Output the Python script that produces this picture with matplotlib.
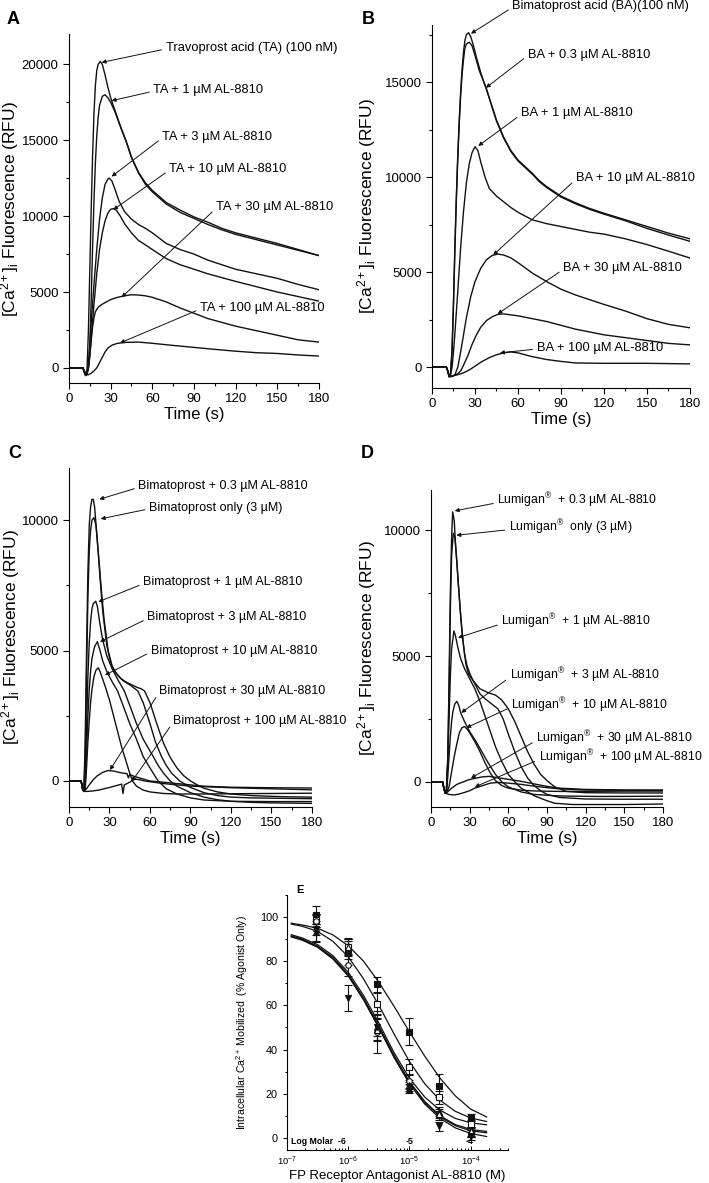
import numpy as np
import matplotlib
matplotlib.use('Agg')
import matplotlib.pyplot as plt
from matplotlib.ticker import MultipleLocator, LogLocator, NullFormatter

plt.rcParams['font.family'] = ['Liberation Sans', 'DejaVu Sans']
plt.rcParams['mathtext.fontset'] = 'custom'
plt.rcParams['mathtext.rm'] = 'Liberation Sans'
plt.rcParams['mathtext.it'] = 'Liberation Sans:italic'
plt.rcParams['mathtext.bf'] = 'Liberation Sans:bold'

# ---------------- panel A : travoprost acid ----------------
a_ta_t = [0, 10, 11, 12, 13, 14, 15, 16, 17, 18, 19, 20, 21, 22.5, 24, 26, 28, 30, 33, 36, 38, 41, 45, 50, 55, 60, 70, 80, 90, 100, 110, 120, 135, 150, 165, 180]
a_ta_v = [0, 0, -300, -500, -100, 2500, 6500, 10500, 14000, 16800, 18600, 19600, 20000, 20200, 20000, 19300, 18500, 17800, 17000, 16200, 15700, 15000, 13900, 12900, 12200, 11700, 10900, 10400, 9950, 9600, 9200, 8900, 8550, 8200, 7800, 7400]
a_1_t = [0, 10, 11, 12, 13, 14, 15, 16, 17, 18, 19, 20, 21, 22, 24, 26, 28, 30, 33, 36, 38, 41, 45, 50, 55, 60, 70, 80, 90, 100, 110, 120, 135, 150, 165, 180]
a_1_v = [0, 0, -300, -500, -300, 0, 1500, 4500, 8000, 11000, 13500, 15300, 16500, 17300, 17900, 18000, 17800, 17500, 16900, 16150, 15650, 14950, 13850, 12850, 12100, 11600, 10800, 10250, 9850, 9450, 9100, 8800, 8450, 8100, 7750, 7400]
a_3_t = [0, 10, 11, 12, 13, 14, 15, 16, 18, 20, 22, 24, 26, 28, 29, 31, 33, 36, 40, 45, 50, 55, 60, 70, 80, 90, 100, 110, 120, 135, 150, 165, 180]
a_3_v = [0, 0, -200, -500, -300, 300, 1500, 3000, 5500, 7800, 9800, 11200, 12100, 12450, 12500, 12300, 11800, 11000, 10300, 9800, 9450, 9200, 8900, 8200, 7800, 7500, 7100, 6800, 6500, 6200, 5900, 5500, 5150]
a_10_t = [0, 10, 11, 12, 13, 14, 15, 16, 18, 20, 22, 24, 26, 28, 30, 32, 34, 37, 40, 45, 50, 56, 60, 70, 80, 90, 100, 110, 120, 135, 150, 165, 180]
a_10_v = [0, 0, -200, -400, -400, 0, 800, 2000, 4200, 6200, 7800, 8900, 9700, 10200, 10450, 10500, 10400, 10000, 9500, 8900, 8400, 8050, 7800, 7200, 6800, 6500, 6200, 5950, 5700, 5350, 5000, 4700, 4400]
a_30_t = [0, 10, 11, 12, 13, 14, 15, 16, 17, 18, 19, 21, 24, 27, 30, 35, 40, 45, 50, 55, 60, 70, 80, 90, 100, 110, 120, 135, 150, 165, 180]
a_30_v = [0, 0, -200, -500, -400, 0, 800, 1800, 2700, 3300, 3700, 4000, 4200, 4350, 4500, 4650, 4750, 4820, 4800, 4750, 4650, 4350, 3950, 3600, 3250, 3000, 2750, 2450, 2150, 1850, 1700]
a_100_t = [0, 10, 11, 12, 14, 16, 18, 20, 22, 24, 26, 28, 31, 35, 40, 50, 60, 75, 90, 105, 120, 135, 150, 165, 180]
a_100_v = [0, 0, -200, -450, -450, -350, -200, 0, 350, 700, 1050, 1300, 1500, 1620, 1680, 1700, 1620, 1480, 1350, 1220, 1100, 1000, 950, 850, 780]

a_labels = ['Travoprost acid (TA) (100 nM)', 'TA + 1 µM AL-8810', 'TA + 3 µM AL-8810',
            'TA + 10 µM AL-8810', 'TA + 30 µM AL-8810', 'TA + 100 µM AL-8810']

# ---------------- panel B : bimatoprost acid ----------------
b_ba_t = [0, 10, 11, 12, 13, 14, 15, 16, 17, 18, 19, 20, 21, 22, 23, 24, 25.5, 27, 29, 31, 34, 38, 42, 45, 50, 55, 60, 70, 75, 80, 90, 100, 110, 120, 135, 150, 165, 180]
b_ba_v = [0, 0, -200, -500, -300, 1000, 3500, 6500, 9000, 11200, 13000, 14500, 15700, 16600, 17200, 17500, 17600, 17400, 16900, 16300, 15500, 14600, 13700, 13000, 12100, 11400, 10900, 10200, 9800, 9500, 9000, 8650, 8350, 8100, 7750, 7400, 7050, 6750]
b_03_t = [0, 10, 11, 12, 13, 14, 15, 16, 17, 18, 19, 20, 21, 22, 23, 24, 26, 28, 30, 33, 38, 42, 45, 50, 55, 60, 70, 75, 80, 90, 100, 110, 120, 135, 150, 165, 180]
b_03_v = [0, 0, -200, -500, -350, 800, 3200, 6200, 8800, 11000, 12800, 14300, 15400, 16200, 16800, 17000, 17100, 16900, 16400, 15600, 14650, 13650, 12950, 12050, 11350, 10850, 10150, 9750, 9450, 8950, 8600, 8300, 8050, 7700, 7300, 6950, 6620]
b_1_t = [0, 10, 11, 12, 13, 14, 15, 16, 18, 20, 22, 24, 26, 28, 30, 32, 34, 37, 40, 45, 50, 55, 60, 70, 80, 90, 100, 110, 120, 135, 150, 165, 180]
b_1_v = [0, 0, -200, -500, -400, 0, 800, 1800, 4000, 6300, 8200, 9700, 10700, 11300, 11600, 11400, 10800, 10000, 9400, 9000, 8700, 8400, 8150, 7750, 7550, 7400, 7250, 7100, 7000, 6750, 6450, 6100, 5740]
b_10_t = [0, 10, 11, 12, 14, 16, 18, 20, 22, 24, 27, 30, 34, 38, 42, 46, 50, 55, 60, 70, 80, 90, 100, 110, 120, 135, 150, 165, 180]
b_10_v = [0, 0, -200, -500, -500, -400, 0, 800, 1700, 2600, 3700, 4500, 5200, 5650, 5880, 5950, 5900, 5750, 5500, 4950, 4500, 4100, 3800, 3550, 3300, 2950, 2550, 2250, 2070]
b_30_t = [0, 10, 11, 12, 15, 18, 20, 22, 25, 28, 31, 34, 38, 42, 46, 50, 55, 60, 70, 80, 90, 100, 110, 120, 135, 150, 165, 180]
b_30_v = [0, 0, -200, -500, -450, -350, -200, 100, 600, 1200, 1700, 2100, 2450, 2650, 2780, 2800, 2750, 2700, 2550, 2400, 2200, 2000, 1850, 1700, 1550, 1400, 1250, 1170]
b_100_t = [0, 10, 11, 12, 15, 18, 22, 26, 30, 35, 40, 45, 50, 55, 60, 65, 70, 80, 90, 100, 120, 150, 180]
b_100_v = [0, 0, -200, -500, -450, -400, -300, -150, 50, 300, 500, 650, 750, 800, 750, 650, 550, 400, 300, 220, 200, 200, 170]

b_labels = ['Bimatoprost acid (BA)(100 nM)', 'BA + 0.3 µM AL-8810', 'BA + 1 µM AL-8810',
            'BA + 10 µM AL-8810', 'BA + 30 µM AL-8810', 'BA + 100 µM AL-8810']

# ---------------- panel C : bimatoprost ----------------
c_03_t = [0, 9, 10, 11, 12, 13, 14, 15, 16, 17, 18, 19, 21, 23, 25, 28, 31, 34, 38, 42, 46, 50, 54, 56, 60, 65, 70, 75, 80, 85, 90, 95, 100, 110, 120, 135, 150, 165, 180]
c_03_v = [0, 0, -300, -400, 1500, 5000, 8000, 9800, 10500, 10800, 10800, 10500, 9200, 7800, 6500, 5200, 4500, 4200, 3950, 3800, 3700, 3600, 3520, 3450, 3000, 2200, 1450, 900, 500, 200, 0, -150, -280, -420, -500, -560, -590, -610, -620]
c_only_t = [0, 9, 10, 11, 12, 13, 14, 15, 16, 17, 18.5, 20, 22, 24, 26, 29, 32, 36, 40, 46, 51, 55, 60, 64, 68.6, 72, 76, 82, 90, 100, 110, 120, 135, 150, 165, 180]
c_only_v = [0, 0, -300, -400, 1000, 4000, 7000, 8800, 9600, 10000, 10100, 9800, 8600, 7300, 6200, 5000, 4400, 4050, 3850, 3650, 3450, 3000, 2200, 1500, 930, 600, 300, 0, -250, -450, -560, -620, -650, -660, -670, -680]
c_1_t = [0, 9, 10, 11, 12, 13, 14, 15, 16, 17, 18, 19.8, 21, 23, 25, 28, 32, 36, 41, 45, 50, 55, 60, 62.5, 66, 70, 75, 80, 90, 100, 110, 120, 135, 150, 165, 180]
c_1_v = [0, 0, -300, -400, 0, 2000, 4000, 5300, 6100, 6600, 6800, 6890, 6700, 6000, 5400, 4800, 4300, 3900, 3450, 2900, 2200, 1600, 1150, 930, 600, 300, 0, -200, -450, -620, -720, -780, -820, -840, -850, -860]
c_3_t = [0, 9, 10, 11, 12, 13, 14, 15, 16, 17, 19, 21, 23, 25, 28, 32, 36, 40, 45, 50, 55, 60, 66, 72, 80, 90, 100, 120, 150, 180]
c_3_v = [0, 0, -300, -400, -200, 1000, 2500, 3500, 4200, 4700, 5150, 5340, 5000, 4600, 4200, 3800, 3450, 2900, 2200, 1600, 930, 500, 0, -300, -500, -650, -730, -780, -790, -790]
c_10_t = [0, 9, 10, 11, 12, 13, 14, 15, 16, 17, 18.5, 20, 21.7, 23, 25, 27, 30, 33, 36, 39, 42, 45, 47, 50, 55, 60, 70, 80, 100, 120, 150, 180]
c_10_v = [0, 0, -300, -400, -300, 500, 1500, 2300, 3000, 3500, 4000, 4250, 4340, 4200, 3900, 3600, 3100, 2500, 1900, 1300, 800, 300, 0, -200, -350, -420, -480, -500, -500, -490, -480, -470]
c_30_t = [0, 9, 10, 11, 13, 15, 18, 21, 25, 29, 33, 37, 40, 43, 44, 45, 48, 52, 56, 60, 70, 80, 90, 100, 120, 150, 180]
c_30_v = [0, 0, -250, -400, -300, -150, 50, 200, 330, 400, 380, 330, 300, 280, 120, 250, 180, 120, 60, 0, -50, -100, -150, -200, -240, -260, -270]
c_100_t = [0, 9, 10, 11, 14, 18, 22, 26, 30, 35, 39, 40, 41, 45, 48, 52, 56, 60, 70, 80, 90, 100, 120, 150, 180]
c_100_v = [0, 0, -250, -400, -400, -380, -350, -300, -250, -180, -120, -480, -150, -50, 80, 50, 0, -30, -100, -150, -200, -220, -260, -300, -340]

c_labels = ['Bimatoprost + 0.3 µM AL-8810', 'Bimatoprost only (3 µM)', 'Bimatoprost + 1 µM AL-8810',
            'Bimatoprost + 3 µM AL-8810', 'Bimatoprost + 10 µM AL-8810', 'Bimatoprost + 30 µM AL-8810',
            'Bimatoprost + 100 µM AL-8810']

# ---------------- panel D : Lumigan ----------------
d_03_t = [0, 9, 10, 11, 12, 13, 14, 15, 16, 16.8, 18, 19, 21, 23, 25, 27, 29, 33, 38, 44, 50, 55, 60, 65, 70, 75, 80, 85, 90, 96, 105, 120, 150, 180]
d_03_v = [0, 0, -250, -450, -300, 1000, 4000, 7500, 9700, 10730, 10400, 9500, 8000, 6600, 5500, 4700, 4300, 4000, 3700, 3550, 3450, 3250, 2900, 2400, 1800, 1200, 700, 300, 50, -200, -380, -430, -440, -440]
d_only_t = [0, 9, 10, 11, 12, 13, 14, 15, 16, 17.3, 18.5, 20, 22, 24, 26, 28, 31, 34, 38, 42, 47, 52, 56, 60, 65, 70, 75, 80, 85, 90, 100, 120, 150, 180]
d_only_v = [0, 0, -250, -450, -300, 800, 3500, 6800, 9000, 9880, 9700, 8800, 7300, 6000, 5100, 4600, 4200, 3900, 3500, 3300, 3100, 2900, 2500, 1900, 1200, 600, 150, -150, -350, -500, -620, -680, -690, -690]
d_1_t = [0, 9, 10, 11, 12, 13, 14, 15, 16, 17.8, 19, 21, 23, 26, 30, 34, 38, 42, 46, 50, 55, 60, 65, 70, 80, 90, 96, 110, 130, 150, 180]
d_1_v = [0, 0, -250, -450, -300, 800, 2500, 4200, 5300, 6000, 5800, 5300, 4900, 4500, 4100, 3700, 3200, 2600, 2000, 1400, 800, 300, 0, -250, -550, -750, -850, -900, -900, -900, -880]
d_3_t = [0, 9, 10, 11, 12, 13, 14, 15, 16, 17, 18.5, 20, 21.5, 23, 26, 30, 35, 40, 45, 50, 55, 60, 70, 80, 100, 130, 180]
d_3_v = [0, 0, -250, -450, -400, 200, 1000, 1800, 2400, 2800, 3100, 3200, 3050, 2750, 2400, 2000, 1600, 1150, 700, 300, 0, -200, -400, -500, -560, -580, -570]
d_10_t = [0, 9, 10, 11, 12, 14, 16, 18, 20, 22, 24, 26, 28, 30, 34, 38, 42, 46, 50, 55, 60, 70, 80, 100, 140, 180]
d_10_v = [0, 0, -250, -450, -450, -200, 400, 1000, 1500, 1950, 2150, 2200, 2100, 1950, 1600, 1200, 750, 350, 50, -150, -250, -330, -360, -380, -370, -360]
d_30_t = [0, 9, 10, 11, 13, 16, 20, 25, 29, 35, 40, 45, 50, 60, 70, 80, 90, 100, 120, 150, 180]
d_30_v = [0, 0, -250, -450, -400, -250, -100, 0, 80, 150, 200, 220, 180, 100, 20, -80, -180, -250, -300, -320, -320]
d_100_t = [0, 9, 10, 11, 14, 18, 22, 26, 30, 34, 40, 46, 52, 60, 70, 80, 90, 100, 120, 150, 180]
d_100_v = [0, 0, -250, -450, -500, -520, -480, -420, -350, -250, -150, -50, -20, -50, -100, -170, -230, -280, -320, -340, -350]

d_labels = ['Lumigan$^{®}$  + 0.3 µM AL-8810', 'Lumigan$^{®}$  only (3 µM)', 'Lumigan$^{®}$  + 1 µM AL-8810',
            'Lumigan$^{®}$  + 3 µM AL-8810', 'Lumigan$^{®}$  + 10 µM AL-8810', 'Lumigan$^{®}$  + 30 µM AL-8810',
            'Lumigan$^{®}$  + 100 µM AL-8810']

# ---------------- panel E : concentration-response ----------------
e_conc = [3e-7, 1e-6, 3e-6, 1e-5, 3e-5, 1e-4]
e_sq_filled = [100.8, 85.0, 69.5, 48.1, 23.7, 9.5]
e_sq_filled_err = [4.0, 4.0, 3.5, 6.0, 5.0, 1.2]
e_sq_open = [98.5, 86.4, 60.8, 32.1, 18.3, 6.2]
e_sq_open_err = [3.0, 3.5, 5.0, 3.5, 3.0, 1.5]
e_circ_open = [98.3, 78.1, 48.0, 25.8, 10.3, 2.0]
e_circ_open_err = [3.0, 5.0, 9.5, 3.0, 2.0, 1.5]
e_tri_up = [93.0, 84.2, 50.2, 22.3, 11.8, 2.5]
e_tri_up_err = [4.0, 6.0, 6.0, 2.0, 2.0, 2.0]
e_tri_open = [95.0, 86.4, 49.0, 24.0, 11.0, 3.0]
e_tri_open_err = [3.0, 4.0, 5.0, 2.0, 2.0, 2.0]
e_tri_down = [94.7, 63.3, 50.2, 23.1, 5.3, 0.8]
e_tri_down_err = [6.0, 6.0, 4.0, 2.0, 2.0, 2.0]

# fitted curves, read along log10(concentration)
e_fit_log = [-6.93, -6.75, -6.5, -6.25, -6.0, -5.75, -5.5, -5.25, -5.0, -4.75, -4.5, -4.25, -4.0, -3.74]
e_fit_sq_filled = [97.2, 96.4, 94.9, 91.9, 87.0, 80.0, 70.5, 59.5, 48.0, 37.0, 27.0, 19.0, 13.0, 9.5]
e_fit_sq_open = [96.8, 95.8, 93.5, 89.0, 82.0, 72.0, 60.0, 47.0, 34.5, 24.5, 17.0, 12.0, 9.0, 7.4]
e_fit_circ_open = [92.0, 90.5, 87.5, 82.5, 75.0, 64.5, 52.0, 38.5, 27.0, 18.5, 12.5, 8.8, 6.8, 5.9]
e_fit_tri_up = [91.5, 90.0, 86.8, 81.7, 74.0, 63.3, 50.7, 37.3, 25.5, 16.5, 10.0, 6.0, 3.8, 2.9]
e_fit_tri_open = [91.0, 89.5, 86.3, 81.0, 73.3, 62.5, 49.8, 36.3, 24.5, 15.3, 8.8, 4.5, 2.0, 0.6]
e_fit_tri_down = [91.2, 89.7, 86.5, 81.3, 73.6, 62.9, 50.2, 36.8, 25.0, 16.0, 9.5, 5.5, 3.2, 2.3]

e_axis_marks = ['Log Molar  -6', '-5', '-4']

YLAB = '[Ca$^{2+}$]$_{\\rm i}$ Fluorescence (RFU)'
LW = 1.0
INK = '#111111'


def style_time(ax, ylim, ylab_x):
    for s in ['top', 'right']:
        ax.spines[s].set_visible(False)
    ax.set_xlim(0, 180)
    ax.set_ylim(*ylim)
    ax.set_xticks(range(0, 181, 30))
    ax.xaxis.set_minor_locator(MultipleLocator(15))
    ax.yaxis.set_major_locator(MultipleLocator(5000))
    ax.yaxis.set_minor_locator(MultipleLocator(2500))
    ax.tick_params(which='major', direction='out', length=4, width=0.8, labelsize=9.5)
    ax.tick_params(which='minor', direction='out', length=2.5, width=0.8)
    ax.set_xlabel('Time (s)', fontsize=12, labelpad=1)
    ax.set_ylabel(YLAB, fontsize=12.5)
    ax.yaxis.set_label_coords(ylab_x, 0.5)


def draw_traces(ax, traces):
    for t, v in traces:
        ax.plot(t, v, color=INK, lw=LW)


def annotate(ax, labels, targets, texts, fs=9.3):
    for lab, xy, xt in zip(labels, targets, texts):
        ax.annotate(lab, xy=xy, xytext=xt, ha='left', va='center', fontsize=fs,
                    annotation_clip=False,
                    arrowprops=dict(arrowstyle='-|>', color=INK, lw=0.7,
                                    mutation_scale=6, shrinkA=1, shrinkB=0,
                                    relpos=(0, 0.4)))


fig = plt.figure(figsize=(7.09, 11.83), dpi=100)

# panel A
axA = fig.add_axes([0.0973, 0.6762, 0.3526, 0.295])
draw_traces(axA, [(a_ta_t, a_ta_v), (a_1_t, a_1_v), (a_3_t, a_3_v), (a_10_t, a_10_v),
                  (a_30_t, a_30_v), (a_100_t, a_100_v)])
style_time(axA, (-1000, 22000), -0.192)
annotate(axA, a_labels,
         [(23.5, 20130), (30.7, 17610), (30.7, 12610), (31.9, 10420), (37.9, 4650), (36.7, 1640)],
         [(69.6, 21100), (60.7, 18310), (67.2, 15240), (72.2, 13110), (105.8, 10590), (94.3, 3950)])

# panel B
axB = fig.add_axes([0.6093, 0.672, 0.3639, 0.3068])
draw_traces(axB, [(b_ba_t, b_ba_v), (b_03_t, b_03_v), (b_1_t, b_1_v), (b_10_t, b_10_v),
                  (b_30_t, b_30_v), (b_100_t, b_100_v)])
style_time(axB, (-1100, 18000), -0.209)
annotate(axB, b_labels,
         [(27.2, 17550), (37.6, 14700), (32.3, 11640), (42.7, 5900), (45.8, 2800), (47.4, 750)],
         [(56, 18990), (66.7, 16450), (62, 13350), (100.3, 9940), (91.5, 5200), (73, 1015)])

# panel C
axC = fig.add_axes([0.0973, 0.3178, 0.3427, 0.2866])
draw_traces(axC, [(c_03_t, c_03_v), (c_only_t, c_only_v), (c_1_t, c_1_v), (c_3_t, c_3_v),
                  (c_10_t, c_10_v), (c_30_t, c_30_v), (c_100_t, c_100_v)])
style_time(axC, (-1000, 12000), -0.193)
annotate(axC, c_labels,
         [(22.5, 10800), (23.5, 10050), (21.8, 6870), (23, 5340), (26.7, 4060), (30.4, 420), (46.5, -25)],
         [(51.4, 11300), (59.3, 10480), (55.1, 7610), (58.1, 6270), (60.6, 4990), (67, 3460), (77.4, 2310)],
         fs=9.0)

# panel D
axD = fig.add_axes([0.6079, 0.3178, 0.3272, 0.268])
draw_traces(axD, [(d_03_t, d_03_v), (d_only_t, d_only_v), (d_1_t, d_1_v), (d_3_t, d_3_v),
                  (d_10_t, d_10_v), (d_30_t, d_30_v), (d_100_t, d_100_v)])
style_time(axD, (-1000, 11600), -0.228)
annotate(axD, d_labels,
         [(18.4, 10770), (19.7, 9800), (21, 5730), (23.5, 2745), (27.4, 2150), (31, 150), (34, -200)],
         [(51.5, 11170), (60.5, 10100), (54.6, 6360), (61, 4230), (62.3, 3050), (81.7, 1720), (83.5, 955)],
         fs=8.8)

# panel E
axE = fig.add_axes([0.4048, 0.0279, 0.3117, 0.2156])
fit_x = np.power(10.0, e_fit_log)
for fit in [e_fit_sq_filled, e_fit_sq_open, e_fit_circ_open, e_fit_tri_up, e_fit_tri_open, e_fit_tri_down]:
    axE.plot(fit_x, fit, color=INK, lw=0.9)
series = [(e_sq_filled, e_sq_filled_err, 's', INK),
          (e_sq_open, e_sq_open_err, 's', 'white'),
          (e_circ_open, e_circ_open_err, 'o', 'white'),
          (e_tri_up, e_tri_up_err, '^', INK),
          (e_tri_open, e_tri_open_err, '^', 'white'),
          (e_tri_down, e_tri_down_err, 'v', INK)]
for vals, errs, mk, fc in series:
    axE.errorbar(e_conc, vals, yerr=errs, fmt=mk, ms=4, mfc=fc, mec=INK, mew=0.8,
                 ecolor=INK, elinewidth=0.8, capsize=3, capthick=0.8)
axE.set_xscale('log')
axE.set_xlim(1e-7, 10 ** -3.39)
axE.set_ylim(-5.5, 110)
for s in ['top', 'right']:
    axE.spines[s].set_visible(False)
axE.yaxis.set_major_locator(MultipleLocator(20))
axE.yaxis.set_minor_locator(MultipleLocator(10))
axE.xaxis.set_major_locator(LogLocator(base=10, numticks=10))
axE.xaxis.set_minor_locator(LogLocator(base=10, subs=np.arange(2, 10), numticks=20))
axE.xaxis.set_minor_formatter(NullFormatter())
axE.tick_params(axis='y', which='major', direction='out', length=3, width=0.7, labelsize=7.8)
axE.tick_params(axis='y', which='minor', direction='out', length=1.5, width=0.7)
axE.tick_params(axis='x', which='major', direction='in', length=3, width=0.7, labelsize=6.8)
axE.tick_params(axis='x', which='minor', direction='in', length=1.5, width=0.7)
axE.set_xlabel('FP Receptor Antagonist AL-8810 (M)', fontsize=9.5, labelpad=1)
axE.set_ylabel('Intracellular Ca$^{2+}$ Mobilized  (% Agonist Only)', fontsize=7.6)
axE.yaxis.set_label_coords(-0.167, 0.5)
for lab, lx in zip(e_axis_marks, [10 ** -6.93, 10 ** -4.99, 10 ** -4.01]):
    axE.text(lx, -1.8, lab, fontsize=6.3, fontweight='bold', va='center',
             ha='left' if lab.startswith('Log') else 'center')

# panel letters
for letter, px, py, fs in [('A', 13, 19, 13), ('B', 368, 19, 13), ('C', 15, 453, 13),
                           ('D', 367, 453, 13), ('E', 300, 890, 8)]:
    fig.text(px / 709, 1 - py / 1183, letter, fontsize=fs, fontweight='bold', ha='center', va='center')

fig.savefig('out.png', dpi=100)
